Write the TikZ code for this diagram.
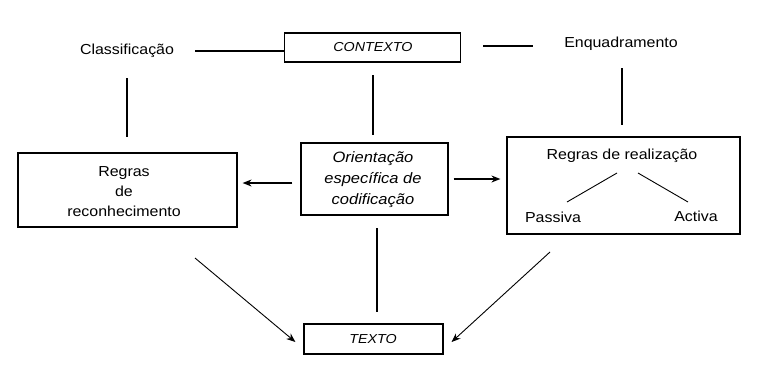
\documentclass[tikz,border=0pt]{standalone}
\usepackage{fontspec}
\setmainfont{Liberation Sans}[FakeStretch=1.1]
\usetikzlibrary{arrows.meta}
\tikzset{
  box/.style={draw, line width=1.2pt, inner sep=0pt, align=center},
  lbl/.style={inner sep=0pt, align=center, font=\fontsize{14.5}{20}\selectfont},
  ilbl/.style={inner sep=0pt, align=center, font=\fontsize{15}{21}\selectfont\itshape},
  caps/.style={inner sep=0pt, font=\fontsize{13}{16}\selectfont\itshape},
  link/.style={line width=1.2pt},
  thin/.style={line width=0.9pt},
  arr/.style={line width=1.2pt, -{Stealth[length=9pt,width=7pt]}},
  darr/.style={line width=0.9pt, -{Stealth[length=9pt,width=7pt]}}
}
\begin{document}
\begin{tikzpicture}[x=1pt,y=-1pt]
\useasboundingbox (0,0) rectangle (761,370);

% top row
\node[lbl] (cls) at (127,51) {Classificação};
\node[box, minimum width=176pt, minimum height=29pt] (ctx) at (372.5,47.5) {};
\node[caps] at (373,47.5) {CONTEXTO};
\node[lbl] (enq) at (621,44) {Enquadramento};

% middle row
\node[box, minimum width=219pt, minimum height=74pt] (rec) at (127.5,190) {};
\node[lbl] at (124,192) {Regras\\de\\reconhecimento};
\node[box, minimum width=147pt, minimum height=72pt] (ori) at (374.5,179) {};
\node[ilbl] at (373,180) {Orientação\\específica de\\codificação};
\node[box, minimum width=233pt, minimum height=97pt] (rea) at (623.5,185.5) {};
\node[lbl] (reat) at (622,156) {Regras de realização};
\node[lbl] (pas) at (553,217) {Passiva};
\node[lbl] (act) at (696,216) {Activa};
\coordinate (ta) at (617,173);
\coordinate (tb) at (638,173);
\coordinate (pa) at (567,202);
\coordinate (ab) at (688,202);

% bottom
\node[box, minimum width=139pt, minimum height=30pt] (txt) at (373.5,339) {};
\node[caps] at (373,339) {TEXTO};

% connectors
\draw[link] ([xshift=21pt]cls.east |- 0,51) -- (268,51) -- (ctx.west |- 0,51);
\draw[link] (ctx.east |- 0,46) ++(22,0) -- ++(50,0);
\draw[link] (127,78) -- (127,137);
\draw[link] (373,75) -- (373,135);
\draw[link] (622,68) -- (622,125);
\draw[link] (377,228) -- (377,312);
\draw[arr] ([xshift=-8pt]ori.west |- 0,183) -- ([xshift=5pt]rec.east |- 0,183);
\draw[arr] ([xshift=5pt]ori.east |- 0,179) -- ([xshift=-6pt]rea.west |- 0,179);
\draw[thin] (ta) -- (pa);
\draw[thin] (tb) -- (ab);
\draw[darr] (195,258) -- ([xshift=-8pt,yshift=-3pt]txt.west);
\draw[darr] (550,252) -- ([xshift=8pt,yshift=-3pt]txt.east);
\end{tikzpicture}
\end{document}
